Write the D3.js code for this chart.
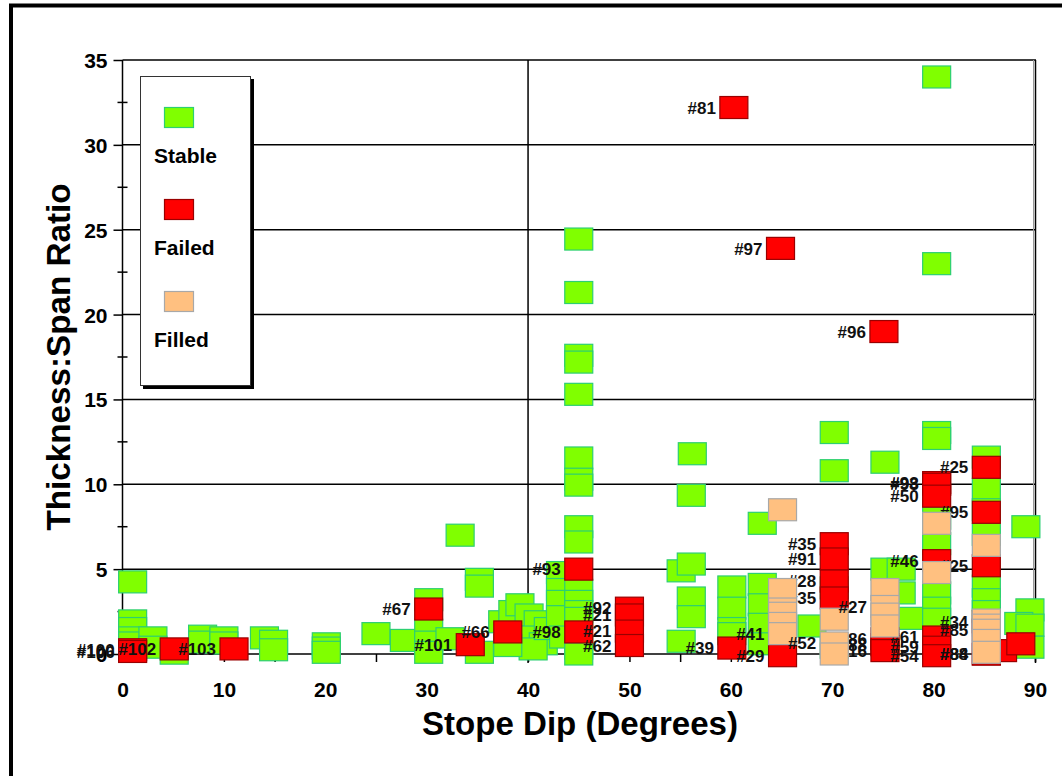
<!DOCTYPE html>
<html lang="en">
  <head>
    <meta charset="UTF-8" />
    <title>Thickness:Span Ratio vs Stope Dip</title>
    <style>
      body { margin: 0; background: #fff; }
      svg text { font-family: "Liberation Sans", Arial, sans-serif; font-weight: bold; }
    </style>
  </head>
  <body>
    <div class="chart"></div>
    <script src="https://d3js.org/d3.v7.min.js"></script>
    <script>

    // stable stopes: dip (degrees) and thickness:span ratio
    var stableDip = [1, 1, 1, 1, 1, 3, 3, 5.1, 7.9, 7.9, 10, 10, 14, 14.9, 14.9, 20.1, 20.1, 20.1,
      25, 27.8, 30.2, 30.2, 30.2, 30.2, 32.3, 33.3, 35.2, 35.2, 35.2,
      37.5, 38.5, 39.2, 40.1, 41, 39.5, 41.5, 40.5, 38, 42, 43.2, 43.2, 43.2, 43.2, 43.5,
      45, 45, 45, 45, 45, 45, 45, 45, 45, 45, 45, 45, 45, 45, 45, 45,
      56.2, 56.1, 55.1, 56.1, 56.1, 56.1, 55.1, 60.1, 60.1, 60.1, 60.1,
      63.1, 63.1, 63.1, 63.1, 63.1, 68, 70.2, 70.2, 70.2, 70.2,
      75.2, 75.2, 76.8, 76.8, 77.9, 80.3, 80.3, 80.3, 80.3, 80.3, 80.3, 80.3, 80.3, 80.3,
      85.2, 85.2, 85.2, 85.2, 85.2, 85.2, 85.2, 89.1, 89.5, 88.4, 89.5, 89.5];
    var stableRatio = [4.25, 1.95, 1.5, 0.95, 0.65, 0.95, 0.4, 0.05, 1.05, 0.7, 0.95, 0.65, 0.95, 0.75, 0.25, 0.6, 0.35, 0.1,
      1.2, 0.8, 3.2, 1.4, 0.7, 0.1, 0.9, 7, 4.4, 4, 0.1,
      1.9, 2.5, 2.9, 2.3, 1.9, 1, 0.6, 0.3, 0.5, 1.5, 4.8, 3.8, 3.1, 2.2, 1,
      24.45, 21.3, 17.6, 17.2, 15.3, 11.55, 10.3, 9.95, 7.5, 6.6, 3.75, 3.1, 2.5, 2.1, 0.35, 0,
      11.8, 9.35, 4.9, 5.3, 3.3, 2.2, 0.75, 3.95, 2.7, 1.5, 1.2,
      7.7, 4.1, 2.9, 1.75, 0.6, 1.65, 13.05, 10.8, 3.9, 0.4,
      11.3, 5, 5, 3.6, 2.1, 34, 23, 13.05, 12.7, 8, 6.5, 3.6, 2.7, 2.05,
      11.6, 9.7, 8.5, 7.05, 4, 3.2, 2.5, 7.5, 2.6, 1.8, 1.7, 0.4];

    // failed stopes
    var failedDip = [1, 1, 5.1, 11, 30.2, 34.3, 38, 45, 45, 50, 50, 50, 50, 60.3, 60.1, 64.9, 65.1,
      70.2, 70.2, 70.2, 70.2, 75.1, 75.2, 75.2, 75.2, 80.3, 80.3, 80.3, 80.3, 80.3, 80.3, 80.3,
      85.2, 85.2, 85.2, 85.2, 85.2, 85.2, 85.2, 86.8, 88.6];
    var failedRatio = [0.25, 0.15, 0.3, 0.3, 2.65, 0.55, 1.3, 5, 1.3, 2.7, 2.3, 1.35, 0.5, 32.2, 0.35, 23.9, -0.1,
      6.5, 5.6, 4.3, 3.3, 19, 0.9, 0.55, 0.2, 10.1, 10, 9.3, 5.5, 1, 0.4, -0.1,
      11, 8.35, 5.2, 1.9, 1.4, 0, 0, 0.2, 0.6];
    var failedLabel = ["#100", "#106", "#102", "#103", "#67", "#101", "#66", "#93", "#98", "#92", "#21", "#21", "#62",
      "#81", "#39", "#97", "#29", "#35", "#91", "#28", "#35", "#96", "#86", "#88", "#16",
      "#93", "#98", "#50", "#46", "#61", "#59", "#54",
      "#25", "#95", "#25", "#34", "#85", "#88", "#84", "", ""];

    // filled stopes
    var filledDip = [65.1, 65.1, 65.1, 65.1, 65.1, 65.1, 70.2, 70.2, 70.2, 75.2, 75.2, 75.2, 75.2,
      80.3, 80.3, 85.2, 85.2, 85.2, 85.2, 85.2, 85.2];
    var filledRatio = [8.5, 3.8, 2.65, 2.4, 1.8, 1.2, 2.05, 0.65, 0, 3.8, 2.8, 2.35, 1.65,
      7.7, 4.8, 6.4, 2, 1.7, 1.4, 0.8, 0.1];
    var filledLabel = ["", "", "", "", "", "#41", "", "#52", "", "", "#27", "", "",
      "", "", "", "", "", "", "", ""];

    var yTicks = [0, 5, 10, 15, 20, 25, 30, 35];
    var yMinor = [2.5, 7.5, 12.5, 17.5, 22.5, 27.5, 32.5];
    var xTicks = [0, 5, 10, 15, 20, 25, 30, 35, 40, 45, 50, 55, 60, 65, 70, 75, 80, 85, 90];
    var legendNames = ["Stable", "Failed", "Filled"];

    var w = 1062, h = 776;
    var fills = { Stable: "#80ff00", Failed: "#ff0000", Filled: "#ffc080" };
    var strokes = { Stable: "#2ccf72", Failed: "#9a0000", Filled: "#a8a8a8" };
    var mw = 28, mh = 22;

    var svg = d3.select(".chart").append("svg")
      .attr("width", w)
      .attr("height", h);

    var x = d3.scaleLinear().domain([0, 90]).range([122.5, 1035]);
    var y = d3.scaleLinear().domain([0, 35]).range([654, 60]);

    // outer frame
    svg.append("rect")
      .attr("x", 11).attr("y", 5.5)
      .attr("width", 1200).attr("height", 1000)
      .attr("fill", "none")
      .attr("stroke", "#000")
      .attr("stroke-width", 4);

    // horizontal grid
    svg.append("g").selectAll("line")
      .data(yTicks.slice(1))
      .enter()
      .append("line")
      .attr("x1", x(0)).attr("x2", x(90) + 1)
      .attr("y1", function(d) { return y(d); })
      .attr("y2", function(d) { return y(d); })
      .attr("stroke", "#000")
      .attr("stroke-width", 1.5);

    // the single vertical line at 40 degrees
    svg.append("line")
      .attr("x1", x(40)).attr("x2", x(40))
      .attr("y1", y(35)).attr("y2", y(0) + 9)
      .attr("stroke", "#000")
      .attr("stroke-width", 1.5);

    // right border, with a grey edge
    svg.append("line")
      .attr("x1", x(90) - 1.5).attr("x2", x(90) - 1.5)
      .attr("y1", y(35)).attr("y2", y(0))
      .attr("stroke", "#999").attr("stroke-width", 1);
    svg.append("line")
      .attr("x1", x(90) + 0.5).attr("x2", x(90) + 0.5)
      .attr("y1", y(35)).attr("y2", y(0) + 9)
      .attr("stroke", "#000").attr("stroke-width", 1.5);

    // y axis
    var yAxis = d3.axisLeft(y).tickValues(yTicks).tickSize(9).tickPadding(6);
    var gy = svg.append("g")
      .attr("transform", "translate(" + x(0) + ",0)")
      .call(yAxis);
    gy.selectAll("path, line").attr("stroke", "#000").attr("stroke-width", 1.5);
    gy.selectAll("text").attr("font-size", "21px").attr("fill", "#000").attr("dy", "0.36em");
    gy.select(".domain").attr("d", "M0," + y(35) + "V" + y(0));

    svg.append("g").selectAll("line")
      .data(yMinor)
      .enter()
      .append("line")
      .attr("x1", x(0) - 5).attr("x2", x(0) + 5)
      .attr("y1", function(d) { return y(d); })
      .attr("y2", function(d) { return y(d); })
      .attr("stroke", "#000")
      .attr("stroke-width", 1.5);

    // x axis
    var xAxis = d3.axisBottom(x).tickValues(xTicks).tickSize(8).tickPadding(20)
      .tickFormat(function(d) { return d % 10 === 0 ? d : ""; });
    var gx = svg.append("g")
      .attr("transform", "translate(0," + y(0) + ")")
      .call(xAxis);
    gx.selectAll("path, line").attr("stroke", "#000").attr("stroke-width", 1.5);
    gx.select(".domain").attr("d", "M" + x(0) + ",0H" + (x(90) + 1));
    gx.selectAll("text").attr("font-size", "21px").attr("fill", "#000");

    // axis titles
    svg.append("text")
      .attr("x", 580).attr("y", 735)
      .attr("text-anchor", "middle")
      .attr("font-size", "34px")
      .attr("textLength", 316)
      .attr("lengthAdjust", "spacingAndGlyphs")
      .text("Stope Dip (Degrees)");

    svg.append("text")
      .attr("transform", "translate(70,357) rotate(-90)")
      .attr("text-anchor", "middle")
      .attr("font-size", "34px")
      .attr("textLength", 347)
      .attr("lengthAdjust", "spacingAndGlyphs")
      .text("Thickness:Span Ratio");

    function markers(cls, dips, ratios) {
      svg.append("g").selectAll("rect")
        .data(dips)
        .enter()
        .append("rect")
        .attr("x", function(d) { return x(d) - mw / 2; })
        .attr("y", function(d, i) { return y(ratios[i]) - mh / 2; })
        .attr("width", mw)
        .attr("height", mh)
        .attr("fill", fills[cls])
        .attr("stroke", strokes[cls])
        .attr("stroke-width", 1.2);
    }

    function labels(dips, ratios, names) {
      svg.append("g").selectAll("text")
        .data(dips)
        .enter()
        .append("text")
        .attr("x", function(d) { return x(d) - mw / 2 - 4; })
        .attr("y", function(d, i) { return y(ratios[i]); })
        .attr("dy", "0.36em")
        .attr("text-anchor", "end")
        .attr("font-size", "17px")
        .attr("fill", "#111")
        .text(function(d, i) { return names[i]; });
    }

    markers("Stable", stableDip, stableRatio);
    markers("Failed", failedDip, failedRatio);
    labels(failedDip, failedRatio, failedLabel);
    markers("Filled", filledDip, filledRatio);
    labels(filledDip, filledRatio, filledLabel);

    // legend
    var legend = svg.append("g");
    legend.append("rect")
      .attr("x", 143).attr("y", 79)
      .attr("width", 111).attr("height", 310)
      .attr("fill", "#000");
    legend.append("rect")
      .attr("x", 140.5).attr("y", 76.5)
      .attr("width", 110).attr("height", 309)
      .attr("fill", "#fff")
      .attr("stroke", "#333")
      .attr("stroke-width", 1);
    legend.selectAll(".sw")
      .data(legendNames)
      .enter()
      .append("rect")
      .attr("class", "sw")
      .attr("x", 164.5)
      .attr("y", function(d, i) { return 107.5 + i * 92; })
      .attr("width", 29)
      .attr("height", 20)
      .attr("fill", function(d) { return fills[d]; })
      .attr("stroke", function(d) { return strokes[d]; })
      .attr("stroke-width", 1.2);
    legend.selectAll(".lt")
      .data(legendNames)
      .enter()
      .append("text")
      .attr("class", "lt")
      .attr("x", 154)
      .attr("y", function(d, i) { return 163 + i * 92; })
      .attr("font-size", "21px")
      .text(function(d) { return d; });

    </script>
  </body>
</html>
